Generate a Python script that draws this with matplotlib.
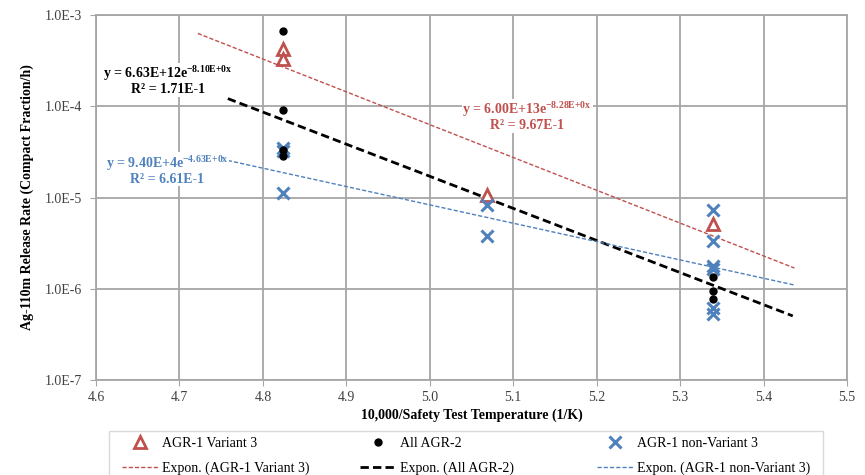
import numpy as np
import matplotlib
matplotlib.use("Agg")
import matplotlib.pyplot as plt
from matplotlib.ticker import FixedLocator, FuncFormatter
from matplotlib.patches import Rectangle

plt.rcParams['font.family'] = ['Liberation Serif', 'DejaVu Serif']
plt.rcParams['mathtext.fontset'] = 'custom'
plt.rcParams['mathtext.rm'] = 'Liberation Serif'
plt.rcParams['mathtext.bf'] = 'Liberation Serif:bold'

# ---- data ----
v3_x = [4.824, 4.824, 5.068, 5.339]
v3_y = [4.2e-4, 3.26e-4, 1.07e-5, 5.1e-6]

agr2_x = [4.824, 4.824, 4.824, 4.824, 5.339, 5.339, 5.339]
agr2_y = [6.67e-4, 9.1e-5, 3.3e-5, 2.85e-5, 1.33e-6, 9.5e-7, 7.7e-7]

nv3_x = [4.824, 4.824, 4.824, 5.068, 5.068, 5.339, 5.339, 5.339, 5.339, 5.339, 5.339]
nv3_y = [3.5e-5, 3.2e-5, 1.11e-5, 8.2e-6, 3.8e-6, 7.3e-6, 3.3e-6, 1.79e-6, 1.65e-6, 6.2e-7, 5.3e-7]

# exponential trendlines y = a*exp(b*x), plotted over [x0, x1]
fit_v3 = dict(a=6.00e13, b=-8.28, x0=4.722, x1=5.437)
fit_agr2 = dict(a=6.63e12, b=-8.10, x0=4.758, x1=5.435)
fit_nv3 = dict(a=9.40e4, b=-4.63, x0=4.758, x1=5.437)

eq_v3 = ("6.00E+13", "-8.28E+0x", "9.67E-1")
eq_agr2 = ("6.63E+12", "-8.10E+0x", "1.71E-1")
eq_nv3 = ("9.40E+4", "-4.63E+0x", "6.61E-1")

xticks = [4.6, 4.7, 4.8, 4.9, 5.0, 5.1, 5.2, 5.3, 5.4, 5.5]
yticks = [1e-7, 1e-6, 1e-5, 1e-4, 1e-3]
ytick_labels = ["1.0E-7", "1.0E-6", "1.0E-5", "1.0E-4", "1.0E-3"]

RED = "#C0504D"
BLUE = "#4F81BD"
GRID = "#A6A6A6"

W, H = 865, 475
fig = plt.figure(figsize=(W / 100, H / 100), dpi=100)
ax = fig.add_axes([96 / W, 1 - 380 / H, 751 / W, 365 / H])
ax.set_yscale('log')
ax.set_xlim(4.6, 5.5)
ax.set_ylim(1e-7, 1e-3)

ax.xaxis.set_major_locator(FixedLocator(xticks))
ax.yaxis.set_major_locator(FixedLocator(yticks))
ax.yaxis.set_minor_locator(FixedLocator([]))
ax.xaxis.set_major_formatter(FuncFormatter(lambda v, p: f"{v:.1f}"))
ax.yaxis.set_major_formatter(FuncFormatter(
    lambda v, p: ytick_labels[int(round(np.log10(v))) + 7]))
ax.grid(True, color=GRID, linewidth=1.3)
ax.set_axisbelow(True)
for s in ax.spines.values():
    s.set_color(GRID)
    s.set_linewidth(1.3)
ax.tick_params(axis='both', which='both', length=4, color=GRID, labelsize=10,
               labelcolor='#404040')
ax.tick_params(axis='y', pad=6)
ax.tick_params(axis='x', pad=4)

def trend(f):
    xs = np.linspace(f['x0'], f['x1'], 50)
    return xs, f['a'] * np.exp(f['b'] * xs)

h_v3, = ax.plot(v3_x, v3_y, linestyle='none', marker='^', markersize=9,
                markerfacecolor='white', markeredgecolor=RED, markeredgewidth=2,
                label='AGR-1 Variant 3', zorder=4)
h_agr2, = ax.plot(agr2_x, agr2_y, linestyle='none', marker='o', markersize=5,
                  color='black', label='All AGR-2', zorder=5)
h_nv3, = ax.plot(nv3_x, nv3_y, linestyle='none', marker='x', markersize=8,
                 markeredgewidth=2.2, color=BLUE, label='AGR-1 non-Variant 3', zorder=4)

xs, ys = trend(fit_v3)
t_v3, = ax.plot(xs, ys, color=RED, linestyle=(0, (3, 1.5)), linewidth=1.0,
                label='Expon. (AGR-1 Variant 3)', zorder=3)
xs, ys = trend(fit_agr2)
t_agr2, = ax.plot(xs, ys, color='black', linestyle=(0, (3, 1.5)), linewidth=2.0,
                  label='Expon. (All AGR-2)', zorder=3)
xs, ys = trend(fit_nv3)
t_nv3, = ax.plot(xs, ys, color=BLUE, linestyle=(0, (3, 1.5)), linewidth=1.0,
                 label='Expon. (AGR-1 non-Variant 3)', zorder=3)

def eqn(x, y, e, color):
    expo = e[1].replace('-', '{-}').replace('+', '{+}')
    ax.text(x, y, r"y = %s$\mathbf{e}^{\mathbf{%s}}$" % (e[0], expo),
            transform=ax.transAxes, color=color, fontsize=10, fontweight='bold',
            ha='center', va='center', zorder=6,
            bbox=dict(facecolor='white', edgecolor='none', pad=0.5))
    ax.text(x, y - 0.045, "R² = %s" % e[2], transform=ax.transAxes, color=color,
            fontsize=10, fontweight='bold', ha='center', va='center', zorder=6,
            bbox=dict(facecolor='white', edgecolor='none', pad=0.5))

eqn(0.096, 0.841, eq_agr2, 'black')
eqn(0.574, 0.742, eq_v3, RED)
eqn(0.095, 0.595, eq_nv3, BLUE)

ax.set_xlabel("10,000/Safety Test Temperature (1/K)", fontsize=10, fontweight='bold',
              labelpad=3)
ax.set_ylabel("Ag-110m Release Rate (Compact Fraction/h)", fontsize=10,
              fontweight='bold', labelpad=8)

# legend frame
fig.add_artist(Rectangle((109 / W, -0.01), 714 / W, 1 - 431 / H + 0.01,
                         transform=fig.transFigure, facecolor='white',
                         edgecolor='#D9D9D9', linewidth=1.0, zorder=1))
cols = [(122, [h_v3, t_v3]), (360, [h_agr2, t_agr2]), (597, [h_nv3, t_nv3])]
for x0, hs in cols:
    lg = fig.legend(handles=hs, ncol=1, loc='upper left',
                    bbox_to_anchor=(x0 / W, 1 - 437 / H), frameon=False,
                    fontsize=10, handlelength=2.6, handletextpad=0.3,
                    borderpad=0, borderaxespad=0, labelspacing=0.85)
    lg.set_zorder(2)

fig.savefig("out.png", dpi=100)
